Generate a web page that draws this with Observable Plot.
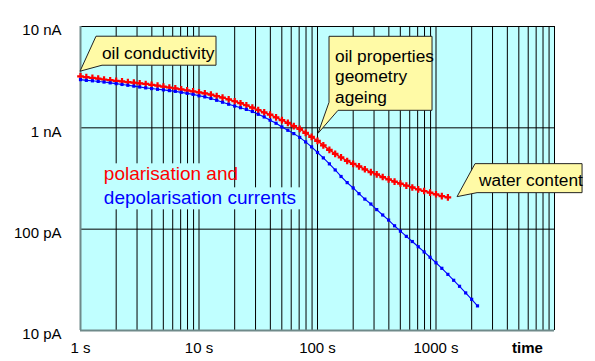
<!DOCTYPE html>
<html><head><meta charset="utf-8">
<script src="https://cdn.jsdelivr.net/npm/d3@7"></script>
<script src="https://cdn.jsdelivr.net/npm/@observablehq/plot@0.6"></script>
<style>
body{margin:0;background:#fff;}
#chart svg{display:block;font-family:"Liberation Sans",Arial,sans-serif;}
</style>
</head><body><div id="chart"></div>
<script>
// time in seconds
const polTime = [1,1.12,1.26,1.41,1.58,1.78,2,2.24,2.51,2.82,3.16,3.55,3.98,4.47,5.01,5.62,6.31,7.08,7.94,8.91,
  10,11.2,12.6,14.1,15.8,17.8,20,22.4,25.1,28.2,31.6,35.5,39.8,44.7,50.1,56.2,63.1,70.8,79.4,89.1,
  100,112,126,141,158,178,200,224,251,282,316,355,398,447,501,562,631,708,794,891,
  1000,1120,1260];
// polarisation current in nA
const polCurrent = [3.22,3.16,3.11,3.06,3.00,2.95,2.91,2.87,2.83,2.79,
  2.75,2.71,2.66,2.61,2.55,2.50,2.45,2.40,2.34,2.29,
  2.24,2.19,2.13,2.06,1.99,1.91,1.83,1.75,1.67,1.58,
  1.50,1.42,1.35,1.27,1.19,1.12,1.04,0.977,0.891,0.815,
  0.743,0.671,0.605,0.553,0.511,0.471,0.441,0.416,0.390,0.366,
  0.347,0.327,0.310,0.295,0.282,0.269,0.258,0.247,0.238,0.229,
  0.221,0.212,0.206];
const depTime = [1,1.12,1.26,1.41,1.58,1.78,2,2.24,2.51,2.82,3.16,3.55,3.98,4.47,5.01,5.62,6.31,7.08,7.94,8.91,
  10,11.2,12.6,14.1,15.8,17.8,20,22.4,25.1,28.2,31.6,35.5,39.8,44.7,50.1,56.2,63.1,70.8,79.4,89.1,
  100,112,126,141,158,178,200,224,251,282,316,355,398,447,501,562,631,708,794,891,
  1000,1120,1260,1410,1580,1780,2000,2240];
// depolarisation current in nA
const depCurrent = [2.99,2.94,2.91,2.87,2.83,2.78,2.73,2.68,2.63,2.58,
  2.53,2.48,2.44,2.40,2.37,2.33,2.29,2.24,2.19,2.14,
  2.07,2.02,1.95,1.87,1.79,1.71,1.64,1.58,1.52,1.45,
  1.36,1.28,1.19,1.11,1.02,0.946,0.877,0.805,0.726,0.649,
  0.571,0.505,0.441,0.384,0.331,0.288,0.255,0.224,0.198,0.177,
  0.156,0.138,0.123,0.108,0.0955,0.0849,0.0755,0.0671,0.0596,0.0528,
  0.0466,0.0411,0.0358,0.0313,0.0273,0.0235,0.0203,0.0175];

const xTicks = [1,10,100,1000];
const xTickLabels = ["1 s","10 s","100 s","1000 s"];
const xAxisTitle = "time";
const yTicks = [0.01,0.1,1,10];
const yTickLabels = ["10 pA","100 pA","1 nA","10 nA"];
const gridTimes = [1,2,3,4,5,6,7,8,9,10,20,30,40,50,60,70,80,90,100,200,300,400,500,600,700,800,900,
  1000,2000,3000,4000,5000,6000,7000,8000,9000,10000];

const seriesLabels = ["polarisation and","depolarisation currents"];
const calloutTexts = [["oil conductivity"],["oil properties","geometry","ageing"],["water content"]];
const calloutTipTime = [1, 102, 1520];
const calloutTipCurrent = [3.58, 0.873, 0.207];

const pol = polTime.map((t,i)=>({t, v: polCurrent[i]}));
const dep = depTime.map((t,i)=>({t, v: depCurrent[i]}));

const RED = "#ff0000", BLUE = "#0000ff", BG = "#c0ffff";

const plot = Plot.plot({
  width: 595, height: 361,
  marginLeft: 80, marginRight: 41, marginTop: 26, marginBottom: 31,
  style: {fontFamily: "'Liberation Sans', Arial, sans-serif", fontSize: "14.5px", color: "#000", background: "#fff", overflow: "visible"},
  x: {type: "log", domain: [1, 10000], axis: null},
  y: {type: "log", domain: [0.01, 10], axis: null},
  marks: [
    Plot.frame({fill: BG, stroke: null}),
    Plot.ruleX(gridTimes, {x: d => d, stroke: "#000", strokeWidth: 1}),
    Plot.ruleY(yTicks, {y: d => d, stroke: "#000", strokeWidth: 1}),
    Plot.ruleX([1], {x: d => d, stroke: "#6f8a8a", strokeWidth: 2}),
    Plot.ruleY([0.01], {y: d => d, stroke: "#6f8a8a", strokeWidth: 2}),
    Plot.text(yTicks, {y: d => d, text: (d,i) => yTickLabels[i], frameAnchor: "left", textAnchor: "end", dx: -19, dy: 4, fontSize: 15}),
    Plot.text(xTicks, {x: d => d, text: (d,i) => xTickLabels[i], frameAnchor: "bottom", lineAnchor: "top", dy: 12, fontSize: 15}),
    Plot.text([xAxisTitle], {frameAnchor: "bottom-right", lineAnchor: "top", textAnchor: "middle", dx: -27, dy: 12, fontWeight: "bold", fontSize: 15}),
    Plot.line(pol, {x: "t", y: "v", stroke: RED, strokeWidth: 1.5}),
    Plot.dot(pol, {x: "t", y: "v", symbol: "cross", r: 2.8, fill: RED, stroke: null}),
    Plot.line(dep, {x: "t", y: "v", stroke: BLUE, strokeWidth: 1.1}),
    Plot.dot(dep, {x: "t", y: "v", symbol: "square", r: 1.8, fill: BLUE, stroke: null})
  ]
});
document.getElementById("chart").appendChild(plot);

function px(name, v) {
  const s = plot.scale(name);
  if (s && typeof s.apply === "function") return s.apply(v);
  const [d0, d1] = s.domain, [r0, r1] = s.range;
  return r0 + (r1 - r0) * Math.log(v / d0) / Math.log(d1 / d0);
}

const svg = d3.select(plot);

// series legend text with plot-coloured background
{
  const x0 = px("x", 1.59), yb = px("y", 0.30);
  const g = svg.append("g").attr("text-anchor", "start");
  g.append("rect").attr("x", x0 - 4).attr("y", yb - 17).attr("width", 130).attr("height", 46).attr("fill", BG);
  g.append("rect").attr("x", x0 + 126).attr("y", yb + 7).attr("width", 72).attr("height", 22).attr("fill", BG);
  g.append("text").attr("x", x0).attr("y", yb).attr("fill", RED).attr("font-size", 19).text(seriesLabels[0]);
  g.append("text").attr("x", x0).attr("y", yb + 24).attr("fill", BLUE).attr("font-size", 19).text(seriesLabels[1]);
}

// callouts: polygon offsets relative to tip
const shapes = [
  {pts: [[16,-35],[136,-35],[136,-6],[22,-6],[0,0]], tx: 22, ty: [-12]},
  {pts: [[11,-97],[114,-97],[114,-23],[20,-23],[0,0],[11,-31]], tx: 17, ty: [-71.5,-51,-30]},
  {pts: [[18,-33],[125,-33],[125,-4],[20,-4],[0,0]], tx: 22, ty: [-11]}
];
calloutTexts.forEach((lines, i) => {
  const X = px("x", calloutTipTime[i]), Y = px("y", calloutTipCurrent[i]);
  const sh = shapes[i];
  const g = svg.append("g").attr("text-anchor", "start");
  g.append("path")
    .attr("d", "M" + sh.pts.map(p => (X + p[0]) + "," + (Y + p[1])).join("L") + "Z")
    .attr("fill", "#fffaa6").attr("stroke", "#222").attr("stroke-width", 1);
  lines.forEach((s, j) => {
    g.append("text").attr("x", X + sh.tx).attr("y", Y + sh.ty[j]).attr("font-size", 17.3).attr("fill", "#000").text(s);
  });
});
</script>
</body></html>
